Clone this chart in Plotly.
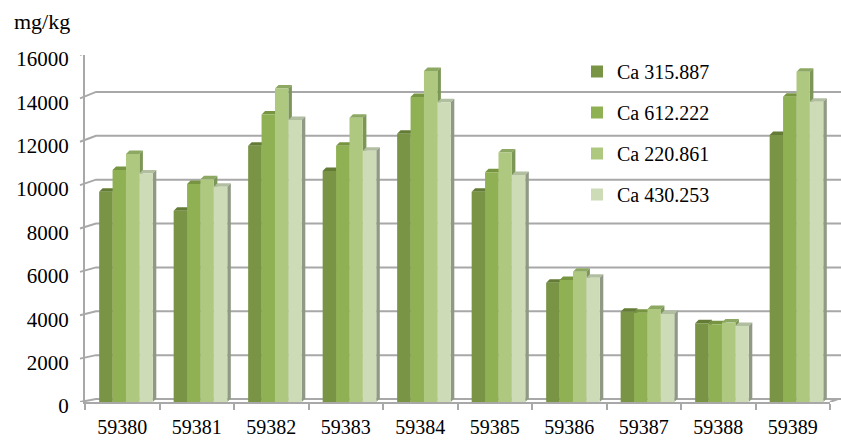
import plotly.graph_objects as go

# Sample IDs and calcium results (mg/kg) for four emission lines
samples = ["59380", "59381", "59382", "59383", "59384",
           "59385", "59386", "59387", "59388", "59389"]
series_names = ["Ca 315.887", "Ca 612.222", "Ca 220.861", "Ca 430.253"]
ca_315_887 = [9700, 8820, 11820, 10650, 12370, 9700, 5500, 4160, 3630, 12310]
ca_612_222 = [10700, 10050, 13260, 11820, 14060, 10590, 5620, 4120, 3580, 14080]
ca_220_861 = [11430, 10270, 14460, 13110, 15260, 11510, 6010, 4290, 3660, 15230]
ca_430_253 = [10540, 9930, 13000, 11590, 13820, 10470, 5730, 4060, 3500, 13850]
y_ticks = [0, 2000, 4000, 6000, 8000, 10000, 12000, 14000, 16000]
y_tick_text = [str(v) for v in y_ticks]

series_values = [ca_315_887, ca_612_222, ca_220_861, ca_430_253]

# Colours: front face, top face, side face per series
front_colors = ["#7A9445", "#90B153", "#AFC880", "#CDDBB6"]
top_colors = ["#637B35", "#779541", "#8DA862", "#B2BEA0"]
side_colors = ["#5F7830", "#6E8A3A", "#7B9657", "#8F9985"]
grid_color = "#A8A8A8"
font_family = "Liberation Serif"

# Figure geometry (pixels)
W, H = 841, 444
ML, MR, MT, MB = 85, 11, 55, 42
plot_w = W - ML - MR
plot_h = H - MT - MB
y_max = y_ticks[-1]
px_per_y = plot_h / y_max
px_per_cat = plot_w / len(samples)

# Pseudo-3D depth of each column and of the back wall
depth_dx = 3.5 / px_per_cat
depth_dy = 3.5 / px_per_y
bar_width = 0.18
bar_offsets = [-0.31, -0.13, 0.05, 0.23]


def px_to_paper_x(px):
    return (px - ML) / plot_w


fig = go.Figure()
shapes = []

# Back-wall gridlines with the slanted tick leading from the front axis
for v in y_ticks:
    back_shift_px = 3 + 4 * v / y_max
    vb = v + back_shift_px / px_per_y
    shapes.append(dict(
        type="path", xref="paper", yref="y", layer="below",
        path=f"M {px_to_paper_x(80)},{v} L {px_to_paper_x(96)},{vb} "
             f"L {px_to_paper_x(W)},{vb}",
        line=dict(color=grid_color, width=2),
    ))

# Right end of the floor plate
shapes.append(dict(
    type="path", xref="paper", yref="y", layer="below",
    path=f"M 1,0 L {px_to_paper_x(W - 3)},{3 / px_per_y}",
    line=dict(color=grid_color, width=2),
))

for k, (name, vals) in enumerate(zip(series_names, series_values)):
    fig.add_trace(go.Bar(
        x=list(range(len(samples))), y=vals, name=name,
        width=bar_width, offset=bar_offsets[k],
        marker=dict(color=front_colors[k], line=dict(width=0)),
        legendgroup=name,
    ))
    for i, v in enumerate(vals):
        x0 = i + bar_offsets[k]
        x1 = x0 + bar_width
        # top face
        shapes.append(dict(
            type="path", xref="x", yref="y", layer="below",
            path=f"M {x0},{v} L {x1},{v} L {x1 + depth_dx},{v + depth_dy} "
                 f"L {x0 + depth_dx},{v + depth_dy} Z",
            fillcolor=top_colors[k], line=dict(width=0),
        ))
        # side face
        shapes.append(dict(
            type="path", xref="x", yref="y", layer="below",
            path=f"M {x1},0 L {x1},{v} L {x1 + depth_dx},{v + depth_dy} "
                 f"L {x1 + depth_dx},{depth_dy} Z",
            fillcolor=side_colors[k], line=dict(width=0),
        ))

boundaries = [i - 0.5 for i in range(len(samples) + 1)]

fig.update_layout(
    width=W, height=H,
    margin=dict(l=ML, r=MR, t=MT, b=MB, pad=0, autoexpand=False),
    paper_bgcolor="white", plot_bgcolor="rgba(0,0,0,0)",
    barmode="overlay",
    font=dict(family=font_family, size=20, color="black"),
    shapes=shapes,
    showlegend=True,
    legend=dict(
        x=px_to_paper_x(577), xanchor="left",
        y=1 - (52 - MT) / plot_h, yanchor="top",
        bgcolor="rgba(0,0,0,0)", borderwidth=0,
        font=dict(family=font_family, size=20, color="black"),
        tracegroupgap=12, traceorder="grouped",
    ),
    xaxis=dict(
        range=[-0.5, len(samples) - 0.5],
        tickmode="array", tickvals=list(range(len(samples))), ticktext=samples,
        ticks="", ticklabelstandoff=6, automargin=False,
        tickfont=dict(family=font_family, size=20, color="black"),
        showline=True, linecolor=grid_color, linewidth=2,
        showgrid=False, zeroline=False,
        minor=dict(tickmode="array", tickvals=boundaries, ticks="outside",
                   ticklen=6, tickwidth=1.5, tickcolor=grid_color),
        fixedrange=True,
    ),
    yaxis=dict(
        range=[0, y_max],
        tickmode="array", tickvals=y_ticks, ticktext=y_tick_text,
        ticks="", ticklabelstandoff=10, ticklabelshift=4, automargin=False,
        tickfont=dict(family=font_family, size=21, color="black"),
        showline=True, linecolor=grid_color, linewidth=2,
        showgrid=False, zeroline=False,
        fixedrange=True,
    ),
    annotations=[dict(
        text="mg/kg", xref="paper", yref="paper",
        x=px_to_paper_x(12), xanchor="left",
        y=1 + (MT - 22) / plot_h, yanchor="middle",
        showarrow=False, font=dict(family=font_family, size=22, color="black"),
    )],
)

fig.write_html("out.html")
